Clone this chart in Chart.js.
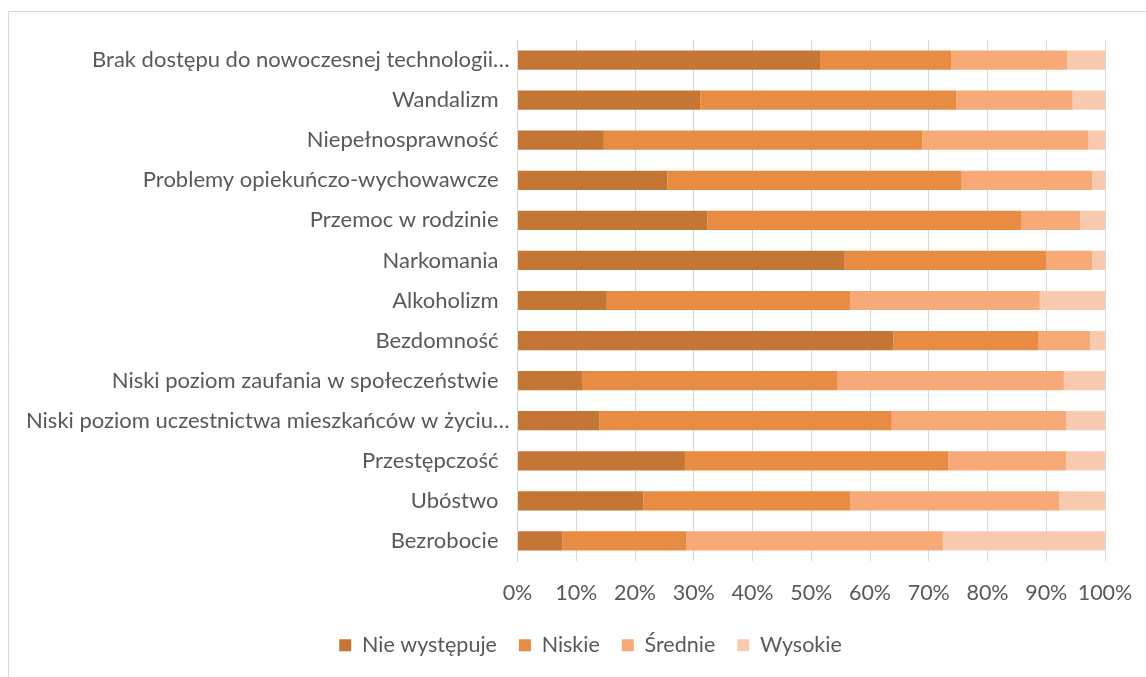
<!DOCTYPE html>
<html lang="pl">
<head>
<meta charset="utf-8">
<title>Natężenie problemów społecznych</title>
<script src="https://cdn.jsdelivr.net/npm/chart.js@4/dist/chart.umd.min.js"></script>
<style>
  html, body { margin: 0; padding: 0; background: #ffffff; }
  #wrap { position: relative; width: 1146px; height: 677px; }
</style>
</head>
<body>
<div id="wrap"><canvas id="chart" width="1146" height="677"></canvas></div>
<script>
// Problemy społeczne (od góry do dołu)
const categories = [
  'Brak dostępu do nowoczesnej technologii…',
  'Wandalizm',
  'Niepełnosprawność',
  'Problemy opiekuńczo-wychowawcze',
  'Przemoc w rodzinie',
  'Narkomania',
  'Alkoholizm',
  'Bezdomność',
  'Niski poziom zaufania w społeczeństwie',
  'Niski poziom uczestnictwa mieszkańców w życiu…',
  'Przestępczość',
  'Ubóstwo',
  'Bezrobocie'
];

// Udział odpowiedzi w procentach
const nieWystepuje = [51.5, 31.1, 14.7, 25.5, 32.3, 55.7, 15.2, 64.0, 11.1, 13.9, 28.5, 21.4, 7.6];
const niskie       = [22.3, 43.6, 54.2, 50.1, 53.4, 34.3, 41.4, 24.7, 43.4, 49.8, 44.8, 35.3, 21.1];
const srednie      = [19.8, 19.8, 28.3, 22.2, 10.1,  7.8, 32.3,  8.8, 38.5, 29.7, 20.1, 35.5, 43.7];
const wysokie      = [ 6.4,  5.5,  2.8,  2.2,  4.2,  2.2, 11.1,  2.5,  7.0,  6.6,  6.6,  7.8, 27.6];

const seriesNames = ['Nie występuje', 'Niskie', 'Średnie', 'Wysokie'];
const tickValues = [0, 10, 20, 30, 40, 50, 60, 70, 80, 90, 100];

const colors = ['#C47634', '#E88C43', '#F7AA78', '#F8CBB1'];
const textColor = '#595959';
const gridColor = '#D9D9D9';
const fontFamily = 'Lato, "Open Sans", sans-serif';
const fontSize = 21.5;
const categoryFontSize = 22;

// Ramka wykresu (lewa i górna krawędź)
const framePlugin = {
  id: 'frame',
  beforeDraw(chart) {
    const ctx = chart.ctx;
    ctx.save();
    ctx.fillStyle = '#ffffff';
    ctx.fillRect(0, 0, chart.width, chart.height);
    ctx.strokeStyle = gridColor;
    ctx.lineWidth = 1;
    ctx.beginPath();
    ctx.moveTo(8.5, chart.height);
    ctx.lineTo(8.5, 11.5);
    ctx.lineTo(chart.width, 11.5);
    ctx.stroke();
    ctx.restore();
  }
};

// Legenda wyśrodkowana względem całej ramki, a nie obszaru bez marginesu
const legendOffset = {
  id: 'legendOffset',
  afterLayout(chart) {
    const legend = chart.legend;
    if (legend) {
      legend.left += 38;
      legend.right += 38;
    }
  }
};

const values = [nieWystepuje, niskie, srednie, wysokie];

new Chart(document.getElementById('chart'), {
  type: 'bar',
  data: {
    labels: categories,
    datasets: seriesNames.map((name, i) => ({
      label: name,
      data: values[i],
      backgroundColor: colors[i],
      borderWidth: 0,
      categoryPercentage: 0.48,
      barPercentage: 1
    }))
  },
  options: {
    indexAxis: 'y',
    responsive: false,
    animation: false,
    layout: { padding: { left: 0, right: 41, top: 40, bottom: 11 } },
    scales: {
      x: {
        stacked: true,
        min: 0,
        max: 100,
        afterBuildTicks(scale) { scale.ticks = tickValues.map(v => ({ value: v })); },
        afterFit(scale) {
          scale.height = 51.5;
          scale.paddingLeft = 0;
          scale.paddingRight = 0;
        },
        grid: { color: gridColor, lineWidth: 1, drawTicks: false },
        border: { display: false },
        ticks: {
          padding: 19,
          color: textColor,
          font: { family: fontFamily, size: fontSize },
          callback: v => v + '%',
          maxRotation: 0
        }
      },
      y: {
        stacked: true,
        afterFit(scale) { scale.width = 517.5; },
        grid: { display: false },
        border: { display: true, color: gridColor },
        ticks: {
          padding: 0,
          color: textColor,
          font: { family: fontFamily, size: categoryFontSize },
          autoSkip: false,
          // pełne nazwy kończą się nieco przed osią, skrócone dochodzą do niej
          callback(value) {
            const label = this.getLabelForValue(value);
            return label.endsWith('…') ? label : label + '\u2002';
          }
        }
      }
    },
    plugins: {
      legend: {
        position: 'bottom',
        labels: {
          boxWidth: 12,
          boxHeight: 12,
          padding: 22,
          color: textColor,
          font: { family: fontFamily, size: fontSize }
        }
      },
      tooltip: { enabled: false }
    }
  },
  plugins: [framePlugin, legendOffset]
});
</script>
</body>
</html>
